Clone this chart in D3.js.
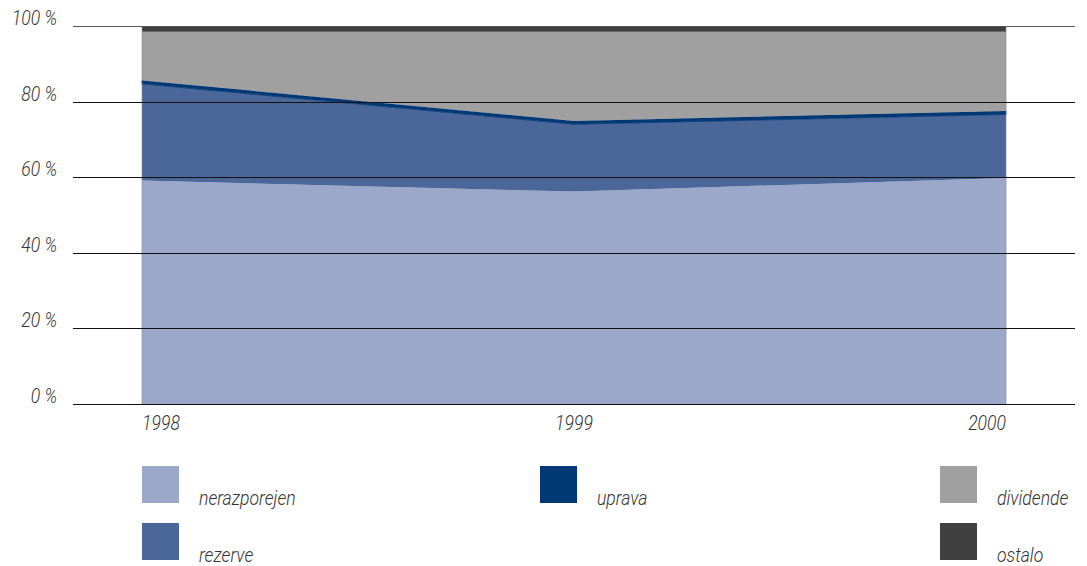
<!DOCTYPE html>
<html><head><meta charset="utf-8">
<script src="https://cdn.jsdelivr.net/npm/d3@7"></script>
<style>
body{margin:0;background:#fff;}
text{font-family:Roboto,"Liberation Sans",sans-serif;font-style:italic;font-weight:300;fill:#333;}
</style></head><body>
<svg id="c" width="1087" height="566"></svg>
<script>
const years = ["1998","1999","2000"];
const seriesNames = ["nerazporejen","rezerve","uprava","dividende","ostalo"];
const nerazporejen = [59.1, 56.2, 59.8];
const rezerve = [25.6, 17.8, 16.8];
const uprava = [0.9, 0.9, 0.9];
const dividende = [12.9, 23.6, 21.0];
const ostalo = [1.5, 1.5, 1.5];
const yTicks = [0,20,40,60,80,100];
const colors = {nerazporejen:"#9ba8c9", rezerve:"#4b6699", uprava:"#003876", dividende:"#a0a0a0", ostalo:"#404040"};

const valuesBy = {nerazporejen, rezerve, uprava, dividende, ostalo};
const table = years.map((y,i)=>{const o={year:y}; seriesNames.forEach(s=>o[s]=valuesBy[s][i]); return o;});

const svg = d3.select("#c");
const x = d3.scalePoint().domain(years).range([142,1006]);
const y = d3.scaleLinear().domain([0,100]).range([404,26]);
const SX = 0.88;

const stack = d3.stack().keys(seriesNames);
const layers = stack(table);
const area = d3.area().x(d=>x(d.data.year)).y0(d=>y(d[0])).y1(d=>y(d[1]));

svg.append("g").selectAll("path").data(layers).join("path")
  .attr("d",area).attr("fill",d=>colors[d.key])
  .attr("stroke",d=>d.key==="uprava"?colors.uprava:"none").attr("stroke-width",0.8);

// side borders
svg.append("g").selectAll("line").data([years[0], years[years.length-1]]).join("line")
  .attr("x1",d=>x(d)).attr("x2",d=>x(d)).attr("y1",y(0)).attr("y2",y(100))
  .attr("stroke","#888").attr("stroke-width",1).attr("opacity",0.6);

// gridlines
svg.append("g").selectAll("line").data(yTicks).join("line")
  .attr("x1",73).attr("x2",1075).attr("y1",d=>Math.round(y(d))+0.5).attr("y2",d=>Math.round(y(d))+0.5)
  .attr("stroke",d=>d===100?"#555":"#111").attr("stroke-width",1);

// y labels
svg.append("g").selectAll("text").data(yTicks).join("text")
  .attr("transform",d=>`translate(57,${y(d)-1}) scale(${SX},1)`)
  .attr("text-anchor","end").attr("font-size",20)
  .text(d=>d+" %");

// x labels
svg.append("g").selectAll("text").data(years).join("text")
  .attr("transform",d=>`translate(${x(d)},430) scale(${SX},1)`).attr("font-size",20)
  .attr("text-anchor",(d,i)=>i===0?"start":(i===years.length-1?"end":"middle"))
  .text(d=>d);

// legend
const legendPos = [
  {key:"nerazporejen",x:142,y:466},
  {key:"rezerve",x:142,y:523},
  {key:"uprava",x:540,y:466},
  {key:"dividende",x:940,y:466},
  {key:"ostalo",x:940,y:523}
];
const lg = svg.append("g").selectAll("g").data(legendPos).join("g")
  .attr("transform",d=>`translate(${d.x},${d.y})`);
lg.append("rect").attr("width",37).attr("height",37).attr("fill",d=>colors[d.key]);
lg.append("text").attr("transform",`translate(57,39) scale(${SX},1)`).attr("font-size",20).text(d=>d.key);
</script>
</body></html>
